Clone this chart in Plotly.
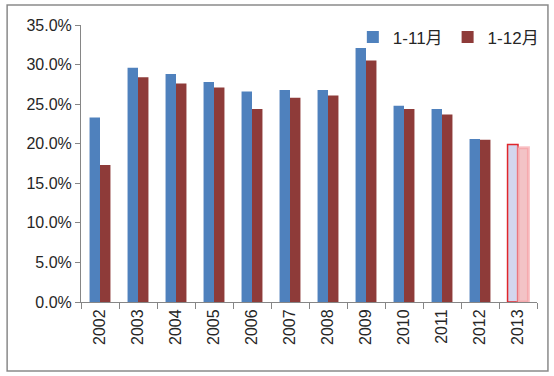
import plotly.graph_objects as go

years = ["2002", "2003", "2004", "2005", "2006", "2007", "2008",
         "2009", "2010", "2011", "2012", "2013"]
jan_nov = [0.233, 0.296, 0.288, 0.278, 0.266, 0.268, 0.268,
           0.321, 0.248, 0.244, 0.206, 0.199]
jan_dec = [0.173, 0.284, 0.276, 0.271, 0.244, 0.258, 0.261,
           0.305, 0.244, 0.237, 0.205, 0.195]
series_names = ["1-11月", "1-12月"]

blue = "#4f81bd"
red = "#8e3b39"
n = len(years)

blue_fill = [blue] * (n - 1) + ["#d3d6ee"]
blue_line_c = [blue] * (n - 1) + ["#e0262b"]
blue_line_w = [0] * (n - 1) + [1.5]
red_fill = [red] * (n - 1) + ["#f3c3c6"]
red_line_c = [red] * (n - 1) + ["rgba(245,150,155,0.55)"]
red_line_w = [0] * (n - 1) + [3]

font = "Liberation Sans, Arial, Noto Sans CJK SC, sans-serif"
txt = "#262626"
grey = "#868686"

fig = go.Figure()
fig.add_trace(go.Bar(
    x=years, y=jan_nov, name=series_names[0],
    marker=dict(color=blue_fill, line=dict(color=blue_line_c, width=blue_line_w)),
))
fig.add_trace(go.Bar(
    x=years, y=jan_dec, name=series_names[1],
    marker=dict(color=red_fill, line=dict(color=red_line_c, width=red_line_w)),
))

fig.update_layout(
    width=554, height=376,
    margin=dict(l=81, r=17, t=25, b=74, autoexpand=False),
    paper_bgcolor="white", plot_bgcolor="white",
    barmode="group", bargap=0.45, bargroupgap=0,
    font=dict(family=font, size=16, color=txt),
    legend=dict(orientation="h", x=1.015, xanchor="right", y=0.955, yanchor="middle",
                font=dict(size=17, color=txt), bgcolor="rgba(0,0,0,0)",
                itemwidth=30, tracegroupgap=0),
    showlegend=True,
    shapes=[dict(type="rect", xref="paper", yref="paper",
                 x0=-0.162, x1=1.024, y0=-0.249, y1=1.072,
                 line=dict(color="#8a8a8a", width=1.5), layer="below")],
)
fig.update_yaxes(range=[0, 0.35], tickformat=".1%", dtick=0.05,
                 showgrid=False, zeroline=False,
                 showline=True, linecolor=grey, linewidth=1,
                 ticks="outside", ticklen=5, tickcolor=grey,
                 tickfont=dict(size=16, color=txt))
fig.update_xaxes(showgrid=False, showline=True, linecolor=grey, linewidth=1,
                 ticks="outside", ticklen=6, tickcolor=grey, tickson="boundaries",
                 tickangle=-90, tickfont=dict(size=16, color=txt))

fig.write_html("out.html", config={"displayModeBar": False},
               post_script="document.body.style.margin='0';")
